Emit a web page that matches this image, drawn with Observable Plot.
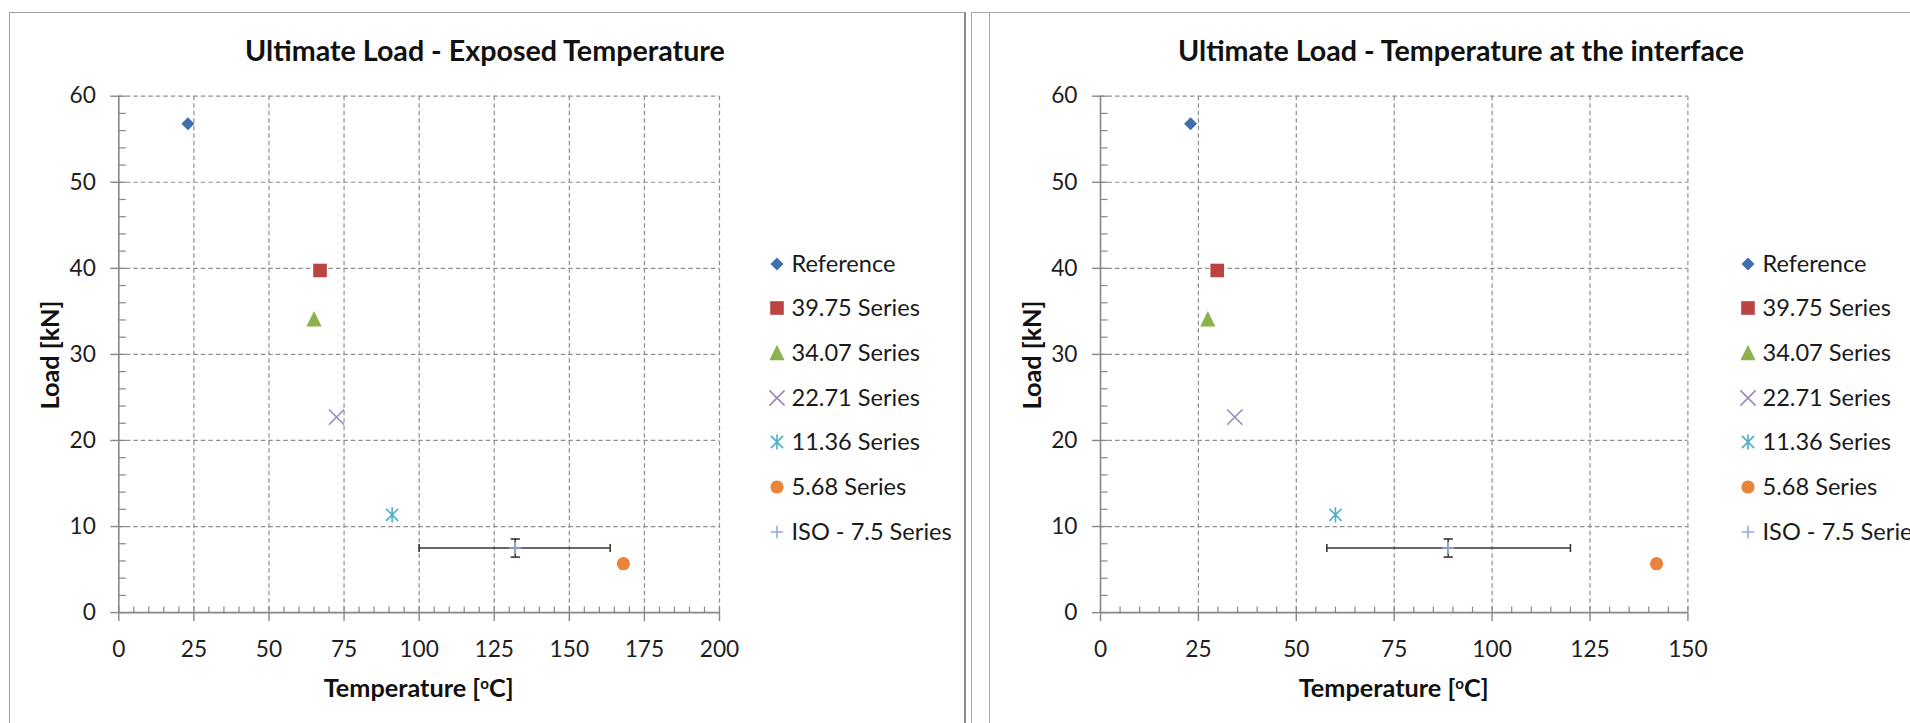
<!DOCTYPE html>
<html>
<head>
<meta charset="utf-8">
<script src="https://cdn.jsdelivr.net/npm/d3@7"></script>
<script src="https://cdn.jsdelivr.net/npm/@observablehq/plot@0.6"></script>
<style>
  html, body { margin: 0; padding: 0; background: #fff; width: 1910px; height: 723px; overflow: hidden; }
  #root { position: relative; width: 1910px; height: 723px; overflow: hidden; font-family: Lato, "Open Sans", sans-serif; color: #1a1a1a; }
  .abs { position: absolute; }
  .ctext { position: absolute; white-space: nowrap; line-height: 1; transform: translate(-50%, -50%); }
  .ltext { position: absolute; white-space: nowrap; line-height: 1; transform: translate(0, -50%); }
  sup { font-size: 0.6em; vertical-align: 0.55em; line-height: 0; }
</style>
</head>
<body>
<div id="root"></div>
<script>
// ---------------- data ----------------
const seriesNames = ["Reference", "39.75 Series", "34.07 Series", "22.71 Series", "11.36 Series", "5.68 Series", "ISO - 7.5 Series"];
const seriesLoads = [56.8, 39.75, 34.07, 22.71, 11.36, 5.68, 7.5];
const exposedTemps = [23, 67, 65, 72.5, 91, 168, 132];
const interfaceTemps = [23, 29.8, 27.4, 34.3, 60, 142, 88.8];
const isoLoadRange = [6.45, 8.55];
const isoExposedRange = [100, 163.6];
const isoInterfaceRange = [57.8, 120];
const loadTicks = [0, 10, 20, 30, 40, 50, 60];
const exposedTicks = [0, 25, 50, 75, 100, 125, 150, 175, 200];
const interfaceTicks = [0, 25, 50, 75, 100, 125, 150];
const seriesColors = ["#3f6fb0", "#b94441", "#8cb24d", "#9c88ba", "#4aafc7", "#e9843c", "#93acd6"];
const chartTitles = ["Ultimate Load - Exposed Temperature", "Ultimate Load - Temperature at the interface"];

// ---------------- symbols ----------------
const rad = s => Math.sqrt(s / Math.PI);
const symDiamond = {draw(c, s) { const r = rad(s); c.moveTo(0, -r); c.lineTo(r, 0); c.lineTo(0, r); c.lineTo(-r, 0); c.closePath(); }};
const symSquare = {draw(c, s) { const r = rad(s); c.moveTo(-r, -r); c.lineTo(r, -r); c.lineTo(r, r); c.lineTo(-r, r); c.closePath(); }};
const symTriangle = {draw(c, s) { const r = rad(s); c.moveTo(0, -r * 1.1); c.lineTo(r, r * 0.95); c.lineTo(-r, r * 0.95); c.closePath(); }};
const symTimes = {draw(c, s) { const r = rad(s); c.moveTo(-r, -r); c.lineTo(r, r); c.moveTo(-r, r); c.lineTo(r, -r); }};
const symAster = {draw(c, s) { const r = rad(s); const d = r * 0.8; c.moveTo(-d, -d); c.lineTo(d, d); c.moveTo(-d, d); c.lineTo(d, -d); c.moveTo(0, -r); c.lineTo(0, r); }};
const symCircle = {draw(c, s) { const r = rad(s); c.moveTo(r, 0); c.arc(0, 0, r, 0, 2 * Math.PI); }};
const symPlus = {draw(c, s) { const r = rad(s); c.moveTo(-r, 0); c.lineTo(r, 0); c.moveTo(0, -r); c.lineTo(0, r); }};
const symVCap = {draw(c, s) { const r = rad(s); c.moveTo(0, -r); c.lineTo(0, r); }};
const symHCap = {draw(c, s) { const r = rad(s); c.moveTo(-r, 0); c.lineTo(r, 0); }};

const seriesStyle = [
  {symbol: symDiamond, r: 6.5, filled: true},
  {symbol: symSquare, r: 6.8, filled: true},
  {symbol: symTriangle, r: 7.6, filled: true},
  {symbol: symTimes, r: 7.6, filled: false},
  {symbol: symAster, r: 7.6, filled: false},
  {symbol: symCircle, r: 6.6, filled: true},
  {symbol: symPlus, r: 6.2, filled: false}
];

// ---------------- font fitting ----------------
const ctx = document.createElement("canvas").getContext("2d");
function fit(text, weight, target) {
  ctx.font = `${weight} 100px Lato`;
  return 100 * target / ctx.measureText(text).width;
}
const titleSize = fit(chartTitles[0], "bold", 481);
const axisTitleSize = fit("Load [kN]", "bold", 109);
const legendSize = fit("Reference", "normal", 104);
const tickSize = fit("100", "normal", 39.5);

const root = document.getElementById("root");
function addDiv(cls, html, left, top, style = "") {
  const d = document.createElement("div");
  d.className = cls;
  d.innerHTML = html;
  d.style.cssText = `left:${left}px;top:${top}px;${style}`;
  root.appendChild(d);
  return d;
}

// panel borders
addDiv("abs", "", 9, 12, "width:957px;height:760px;border:1px solid #a0a0a0;border-right:2px solid #8a8a8a;box-sizing:border-box;");
addDiv("abs", "", 970.5, 12, "width:1000px;height:760px;border:1px solid #a8a8a8;box-sizing:border-box;");
addDiv("abs", "", 989, 12, "width:1px;height:760px;background:#a8a8a8;");

// ---------------- chart builder ----------------
function buildChart(temps, isoRange, xMax, xTicks, geom) {
  const rows = seriesNames.map((name, i) => ({name, temp: temps[i], load: seriesLoads[i]}));
  const iso = rows[6];
  const isoBar = [{temp: iso.temp, load: iso.load, lo: isoRange[0], hi: isoRange[1], ylo: isoLoadRange[0], yhi: isoLoadRange[1]}];
  const xMinor = d3.range(0, xMax + 0.001, 5);
  const yMinor = d3.range(0, 60.001, 2);
  const axisColor = "#878787";
  const gridStyle = {stroke: "#8e8e8e", strokeOpacity: 1, strokeWidth: 1.2, strokeDasharray: "4.5,3"};
  const ebColor = "#363636";
  const marks = [
    Plot.gridX(xTicks.filter(d => d > 0), gridStyle),
    Plot.gridY(loadTicks.filter(d => d > 0), gridStyle),
    Plot.axisX(xMinor, {tickSize: -5.5, tickFormat: () => "", stroke: axisColor, strokeWidth: 1.2, label: null}),
    Plot.axisY(yMinor, {tickSize: -7.5, tickFormat: () => "", stroke: axisColor, strokeWidth: 1.2, label: null}),
    Plot.axisX(xTicks, {tickSize: 9, tickPadding: 19, stroke: axisColor, strokeWidth: 1.4, fill: "#1e1e1e", label: null}),
    Plot.axisY(loadTicks, {tickSize: 8, tickPadding: 15, stroke: axisColor, strokeWidth: 1.4, fill: "#1e1e1e", label: null}),
    Plot.ruleX([0], {stroke: axisColor, strokeWidth: 1.6}),
    Plot.ruleY([0], {stroke: axisColor, strokeWidth: 1.6}),
    Plot.ruleY(isoBar, {y: "load", x1: "lo", x2: "hi", stroke: ebColor, strokeWidth: 1.6}),
    Plot.dot(isoBar, {x: "lo", y: "load", symbol: symVCap, r: 4, stroke: ebColor, strokeWidth: 1.6, fill: "none"}),
    Plot.dot(isoBar, {x: "hi", y: "load", symbol: symVCap, r: 4, stroke: ebColor, strokeWidth: 1.6, fill: "none"}),
    Plot.ruleX(isoBar, {x: "temp", y1: "ylo", y2: "yhi", stroke: ebColor, strokeWidth: 1.6}),
    Plot.dot(isoBar, {x: "temp", y: "ylo", symbol: symHCap, r: 4.6, stroke: ebColor, strokeWidth: 1.6, fill: "none"}),
    Plot.dot(isoBar, {x: "temp", y: "yhi", symbol: symHCap, r: 4.6, stroke: ebColor, strokeWidth: 1.6, fill: "none"})
  ];
  rows.forEach((row, i) => {
    const st = seriesStyle[i];
    marks.push(Plot.dot([row], {
      x: "temp", y: "load", symbol: st.symbol, r: st.r,
      fill: st.filled ? seriesColors[i] : "none",
      stroke: st.filled ? "none" : seriesColors[i],
      strokeWidth: st.filled ? 0 : 1.6
    }));
  });
  const svg = Plot.plot({
    width: geom.width, height: 723,
    marginLeft: geom.x0 - geom.left, marginRight: geom.left + geom.width - geom.x1,
    marginTop: 95.7, marginBottom: 723 - 612.1,
    x: {domain: [0, xMax]},
    y: {domain: [0, 60]},
    style: {background: "transparent", fontFamily: "Lato, sans-serif", fontSize: tickSize + "px", color: "#1e1e1e", overflow: "visible", maxWidth: "none"},
    marks
  });
  svg.style.position = "absolute";
  svg.style.left = geom.left + "px";
  svg.style.top = "0px";
  root.appendChild(svg);

  // title
  addDiv("ctext", chartTitles[geom.idx], geom.titleX, 50, `font-weight:bold;font-size:${titleSize}px;color:#111;`);
  // axis titles
  const cx = (geom.x0 + geom.x1) / 2;
  addDiv("ctext", "Temperature [<sup>o</sup>C]", cx, 688, `font-weight:bold;font-size:${axisTitleSize}px;color:#111;`);
  addDiv("ctext", "Load [kN]", geom.x0 - 68.5, 355, `font-weight:bold;font-size:${axisTitleSize}px;color:#111;transform:translate(-50%,-50%) rotate(-90deg);`);

  // legend
  seriesNames.forEach((name, i) => {
    const cy = 263.5 + i * 44.7;
    const st = seriesStyle[i];
    const path = d3.symbol(st.symbol, st.r * st.r * Math.PI)();
    const s = 20;
    const fill = st.filled ? seriesColors[i] : "none";
    const stroke = st.filled ? "none" : seriesColors[i];
    addDiv("abs", `<svg width="${s}" height="${s}" viewBox="${-s/2} ${-s/2} ${s} ${s}"><path d="${path}" fill="${fill}" stroke="${stroke}" stroke-width="1.6"/></svg>`,
      geom.legendMarkerX - s / 2, cy - s / 2, `width:${s}px;height:${s}px;line-height:0;`);
    addDiv("ltext", name, geom.legendTextX, cy, `font-size:${legendSize}px;color:#1a1a1a;`);
  });
}

buildChart(exposedTemps, isoExposedRange, 200, exposedTicks,
  {idx: 0, left: 0, width: 960, x0: 118.3, x1: 719, titleX: 485, legendMarkerX: 777, legendTextX: 791.5});
buildChart(interfaceTemps, isoInterfaceRange, 150, interfaceTicks,
  {idx: 1, left: 960, width: 950, x0: 1100, x1: 1687.4, titleX: 1461, legendMarkerX: 1747.7, legendTextX: 1762.5});
</script>
</body>
</html>
